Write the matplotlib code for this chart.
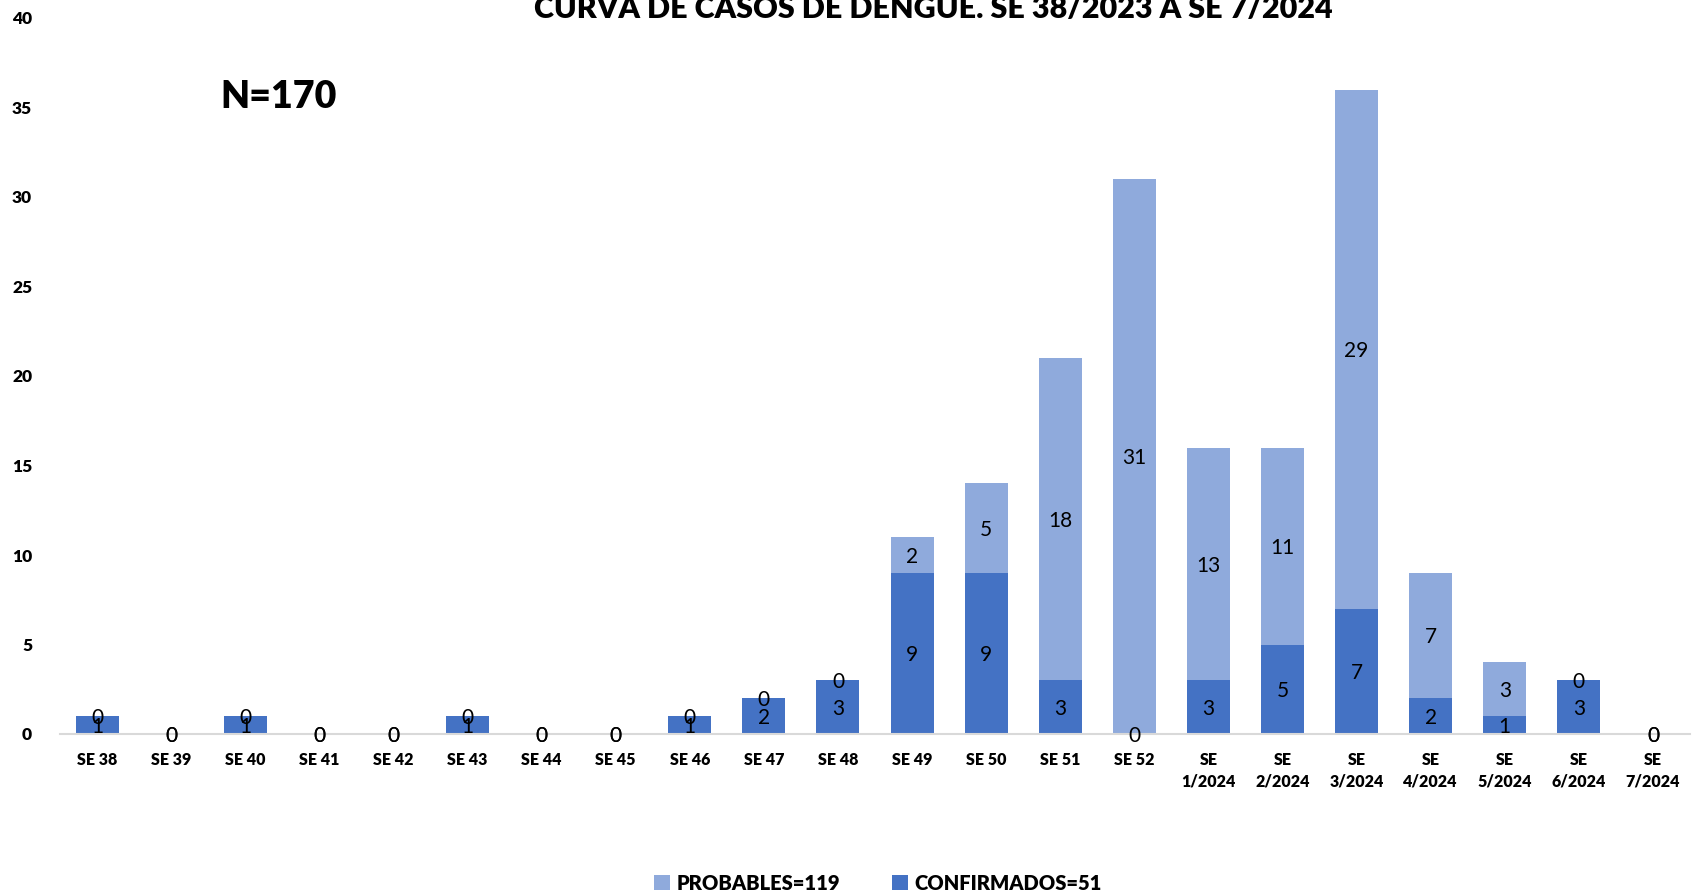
import matplotlib
matplotlib.use("Agg")
import matplotlib.pyplot as plt
import numpy as np

# Data
weeks = ["SE 38", "SE 39", "SE 40", "SE 41", "SE 42", "SE 43", "SE 44", "SE 45",
         "SE 46", "SE 47", "SE 48", "SE 49", "SE 50", "SE 51", "SE 52",
         "SE\n1/2024", "SE\n2/2024", "SE\n3/2024", "SE\n4/2024", "SE\n5/2024",
         "SE\n6/2024", "SE\n7/2024"]
confirmados = [1, 0, 1, 0, 0, 1, 0, 0, 1, 2, 3, 9, 9, 3, 0, 3, 5, 7, 2, 1, 3, 0]
probables = [0, 0, 0, 0, 0, 0, 0, 0, 0, 0, 0, 2, 5, 18, 31, 13, 11, 29, 7, 3, 0, 0]
y_ticks = [0, 5, 10, 15, 20, 25, 30, 35, 40]

title = "CURVA DE CASOS DE DENGUE. SE 38/2023 A SE 7/2024"
total_label = "N=170"

c_conf = "#4472C4"
c_prob = "#8FAADC"

plt.rcParams["font.family"] = ["Lato", "DejaVu Sans"]

W, H = 1693, 894
fig = plt.figure(figsize=(W / 100, H / 100), dpi=100)
ax = fig.add_axes([60 / W, 1 - 734 / H, 1630 / W, 716 / H])

x = np.arange(len(weeks))
width = 0.58
conf = np.array(confirmados)
prob = np.array(probables)

ax.bar(x, conf, width, color=c_conf, label="CONFIRMADOS=51", zorder=2)
ax.bar(x, prob, width, bottom=conf, color=c_prob, label="PROBABLES=119", zorder=2)

# data labels centred in each segment
for i in range(len(x)):
    ax.text(x[i], conf[i] / 2 - 0.1, str(conf[i]), ha="center", va="center",
            fontsize=15, color="black", zorder=3)
    ax.text(x[i], conf[i] + prob[i] / 2 - 0.1, str(prob[i]), ha="center", va="center",
            fontsize=15, color="black", zorder=3)

ax.set_xlim(-0.5, len(x) - 0.5)
ax.set_ylim(0, 40)
ax.set_yticks(y_ticks)
ax.set_yticklabels([str(t) for t in y_ticks], fontsize=12.5, fontweight="heavy")
ax.set_xticks(x)
ax.set_xticklabels(weeks, fontsize=11.5, fontweight="heavy", linespacing=1.45)
ax.tick_params(length=0)
ax.tick_params(axis="y", pad=20)
ax.tick_params(axis="x", pad=13)
for s in ["top", "right", "left"]:
    ax.spines[s].set_visible(False)
ax.spines["bottom"].set_color("#D9D9D9")
ax.spines["bottom"].set_linewidth(1.5)

fig.text(933 / W, 1 - 18 / H, title, ha="center", va="baseline",
         fontsize=22, fontweight="heavy")
ax.text(279 / W, 1 - 97 / H, total_label, transform=fig.transFigure,
        ha="center", va="center", fontsize=27, fontweight="heavy")

handles, labels = ax.get_legend_handles_labels()
fig.legend(handles[::-1], labels[::-1], loc="center",
           bbox_to_anchor=(878 / W, 1 - 883 / H), ncol=2, frameon=False,
           prop={"size": 14.5, "weight": "heavy"}, handlelength=0.8,
           handleheight=0.8, columnspacing=2.6, handletextpad=0.3)

fig.savefig("out.png", dpi=100)
